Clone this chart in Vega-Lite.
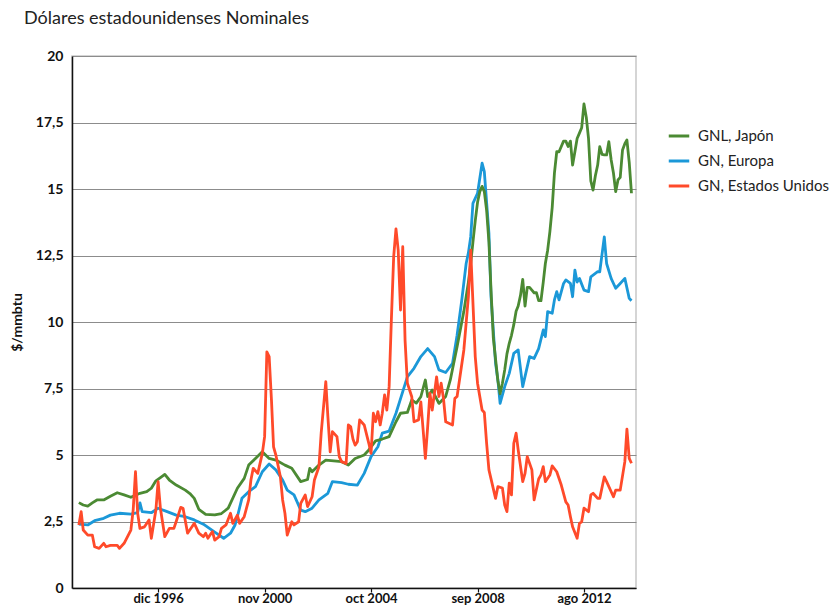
{
"$schema": "https://vega.github.io/schema/vega-lite/v6.json",
"width": 564, "height": 532,
"autosize": "none",
"padding": {"left": 72, "top": 56, "right": 194, "bottom": 18},
"background": "white",
"title": {"text": "Dólares estadounidenses Nominales", "anchor": "start", "frame": "group", "dx": -48, "dy": 23, "offset": 30, "baseline": "alphabetic", "fontSize": 18, "fontWeight": "normal", "font": "Lato", "color": "#222222"},
"config": {"view": {"stroke": "#c8c8c8", "strokeWidth": 1.5}, "font": "Lato"},
"data": {"values": [
{"fecha":"1994-01-01","serie":"GN, Europa","valor":2.4},
{"fecha":"1994-05-01","serie":"GN, Europa","valor":2.37},
{"fecha":"1994-08-01","serie":"GN, Europa","valor":2.53},
{"fecha":"1994-12-01","serie":"GN, Europa","valor":2.62},
{"fecha":"1995-03-01","serie":"GN, Europa","valor":2.74},
{"fecha":"1995-07-01","serie":"GN, Europa","valor":2.81},
{"fecha":"1995-12-01","serie":"GN, Europa","valor":2.78},
{"fecha":"1996-03-01","serie":"GN, Europa","valor":2.83},
{"fecha":"1996-04-01","serie":"GN, Europa","valor":3.2},
{"fecha":"1996-05-01","serie":"GN, Europa","valor":2.87},
{"fecha":"1996-09-01","serie":"GN, Europa","valor":2.83},
{"fecha":"1996-12-01","serie":"GN, Europa","valor":3.0},
{"fecha":"1997-04-01","serie":"GN, Europa","valor":2.87},
{"fecha":"1997-08-01","serie":"GN, Europa","valor":2.74},
{"fecha":"1997-12-01","serie":"GN, Europa","valor":2.68},
{"fecha":"1998-04-01","serie":"GN, Europa","valor":2.56},
{"fecha":"1998-08-01","serie":"GN, Europa","valor":2.4},
{"fecha":"1999-01-01","serie":"GN, Europa","valor":2.1},
{"fecha":"1999-05-01","serie":"GN, Europa","valor":1.87},
{"fecha":"1999-08-01","serie":"GN, Europa","valor":2.06},
{"fecha":"1999-10-01","serie":"GN, Europa","valor":2.37},
{"fecha":"1999-11-01","serie":"GN, Europa","valor":2.68},
{"fecha":"2000-01-01","serie":"GN, Europa","valor":3.37},
{"fecha":"2000-04-01","serie":"GN, Europa","valor":3.62},
{"fecha":"2000-07-01","serie":"GN, Europa","valor":3.81},
{"fecha":"2000-10-01","serie":"GN, Europa","valor":4.37},
{"fecha":"2001-01-01","serie":"GN, Europa","valor":4.66},
{"fecha":"2001-04-01","serie":"GN, Europa","valor":4.44},
{"fecha":"2001-07-01","serie":"GN, Europa","valor":4.06},
{"fecha":"2001-09-01","serie":"GN, Europa","valor":3.68},
{"fecha":"2001-12-01","serie":"GN, Europa","valor":3.5},
{"fecha":"2002-03-01","serie":"GN, Europa","valor":2.93},
{"fecha":"2002-05-01","serie":"GN, Europa","valor":2.87},
{"fecha":"2002-08-01","serie":"GN, Europa","valor":3.0},
{"fecha":"2002-11-01","serie":"GN, Europa","valor":3.31},
{"fecha":"2003-03-01","serie":"GN, Europa","valor":3.56},
{"fecha":"2003-05-01","serie":"GN, Europa","valor":4.0},
{"fecha":"2003-09-01","serie":"GN, Europa","valor":3.96},
{"fecha":"2003-12-01","serie":"GN, Europa","valor":3.9},
{"fecha":"2004-04-01","serie":"GN, Europa","valor":3.87},
{"fecha":"2004-07-01","serie":"GN, Europa","valor":4.31},
{"fecha":"2004-10-01","serie":"GN, Europa","valor":4.94},
{"fecha":"2005-01-01","serie":"GN, Europa","valor":5.31},
{"fecha":"2005-03-01","serie":"GN, Europa","valor":5.82},
{"fecha":"2005-06-01","serie":"GN, Europa","valor":5.9},
{"fecha":"2005-09-01","serie":"GN, Europa","valor":6.57},
{"fecha":"2005-12-01","serie":"GN, Europa","valor":7.38},
{"fecha":"2006-02-01","serie":"GN, Europa","valor":7.94},
{"fecha":"2006-05-01","serie":"GN, Europa","valor":8.26},
{"fecha":"2006-08-01","serie":"GN, Europa","valor":8.7},
{"fecha":"2006-11-01","serie":"GN, Europa","valor":9.0},
{"fecha":"2007-02-01","serie":"GN, Europa","valor":8.7},
{"fecha":"2007-04-01","serie":"GN, Europa","valor":8.2},
{"fecha":"2007-07-01","serie":"GN, Europa","valor":8.1},
{"fecha":"2007-10-01","serie":"GN, Europa","valor":8.45},
{"fecha":"2007-12-01","serie":"GN, Europa","valor":9.5},
{"fecha":"2008-02-01","serie":"GN, Europa","valor":10.8},
{"fecha":"2008-04-01","serie":"GN, Europa","valor":12.2},
{"fecha":"2008-05-01","serie":"GN, Europa","valor":12.6},
{"fecha":"2008-06-01","serie":"GN, Europa","valor":13.2},
{"fecha":"2008-07-01","serie":"GN, Europa","valor":14.46},
{"fecha":"2008-09-01","serie":"GN, Europa","valor":14.84},
{"fecha":"2008-11-01","serie":"GN, Europa","valor":15.97},
{"fecha":"2008-12-01","serie":"GN, Europa","valor":15.65},
{"fecha":"2009-02-01","serie":"GN, Europa","valor":13.33},
{"fecha":"2009-03-01","serie":"GN, Europa","valor":10.95},
{"fecha":"2009-05-01","serie":"GN, Europa","valor":8.45},
{"fecha":"2009-06-01","serie":"GN, Europa","valor":7.82},
{"fecha":"2009-07-01","serie":"GN, Europa","valor":6.94},
{"fecha":"2009-09-01","serie":"GN, Europa","valor":7.57},
{"fecha":"2009-11-01","serie":"GN, Europa","valor":8.07},
{"fecha":"2010-01-01","serie":"GN, Europa","valor":8.82},
{"fecha":"2010-03-01","serie":"GN, Europa","valor":8.95},
{"fecha":"2010-05-01","serie":"GN, Europa","valor":7.57},
{"fecha":"2010-08-01","serie":"GN, Europa","valor":8.7},
{"fecha":"2010-10-01","serie":"GN, Europa","valor":8.63},
{"fecha":"2010-12-01","serie":"GN, Europa","valor":9.0},
{"fecha":"2011-02-01","serie":"GN, Europa","valor":9.7},
{"fecha":"2011-03-01","serie":"GN, Europa","valor":9.45},
{"fecha":"2011-04-01","serie":"GN, Europa","valor":10.39},
{"fecha":"2011-06-01","serie":"GN, Europa","valor":10.33},
{"fecha":"2011-07-01","serie":"GN, Europa","valor":10.83},
{"fecha":"2011-08-01","serie":"GN, Europa","valor":11.14},
{"fecha":"2011-09-01","serie":"GN, Europa","valor":10.83},
{"fecha":"2011-11-01","serie":"GN, Europa","valor":11.45},
{"fecha":"2011-12-01","serie":"GN, Europa","valor":11.58},
{"fecha":"2012-02-01","serie":"GN, Europa","valor":11.45},
{"fecha":"2012-03-01","serie":"GN, Europa","valor":10.95},
{"fecha":"2012-04-01","serie":"GN, Europa","valor":11.95},
{"fecha":"2012-05-01","serie":"GN, Europa","valor":11.5},
{"fecha":"2012-06-01","serie":"GN, Europa","valor":11.64},
{"fecha":"2012-08-01","serie":"GN, Europa","valor":11.2},
{"fecha":"2012-10-01","serie":"GN, Europa","valor":11.14},
{"fecha":"2012-11-01","serie":"GN, Europa","valor":11.7},
{"fecha":"2013-02-01","serie":"GN, Europa","valor":11.89},
{"fecha":"2013-03-01","serie":"GN, Europa","valor":11.89},
{"fecha":"2013-05-01","serie":"GN, Europa","valor":13.2},
{"fecha":"2013-06-01","serie":"GN, Europa","valor":12.2},
{"fecha":"2013-08-01","serie":"GN, Europa","valor":11.64},
{"fecha":"2013-10-01","serie":"GN, Europa","valor":11.27},
{"fecha":"2013-12-01","serie":"GN, Europa","valor":11.45},
{"fecha":"2014-02-01","serie":"GN, Europa","valor":11.64},
{"fecha":"2014-04-01","serie":"GN, Europa","valor":10.89},
{"fecha":"2014-05-01","serie":"GN, Europa","valor":10.8},
{"fecha":"1994-01-01","serie":"GNL, Japón","valor":3.21},
{"fecha":"1994-03-01","serie":"GNL, Japón","valor":3.12},
{"fecha":"1994-05-01","serie":"GNL, Japón","valor":3.08},
{"fecha":"1994-07-01","serie":"GNL, Japón","valor":3.2},
{"fecha":"1994-09-01","serie":"GNL, Japón","valor":3.31},
{"fecha":"1994-12-01","serie":"GNL, Japón","valor":3.31},
{"fecha":"1995-03-01","serie":"GNL, Japón","valor":3.45},
{"fecha":"1995-06-01","serie":"GNL, Japón","valor":3.58},
{"fecha":"1995-09-01","serie":"GNL, Japón","valor":3.5},
{"fecha":"1995-12-01","serie":"GNL, Japón","valor":3.41},
{"fecha":"1996-04-01","serie":"GNL, Japón","valor":3.56},
{"fecha":"1996-07-01","serie":"GNL, Japón","valor":3.62},
{"fecha":"1996-09-01","serie":"GNL, Japón","valor":3.75},
{"fecha":"1996-11-01","serie":"GNL, Japón","valor":4.03},
{"fecha":"1997-01-01","serie":"GNL, Japón","valor":4.15},
{"fecha":"1997-03-01","serie":"GNL, Japón","valor":4.27},
{"fecha":"1997-05-01","serie":"GNL, Japón","valor":4.06},
{"fecha":"1997-08-01","serie":"GNL, Japón","valor":3.87},
{"fecha":"1997-12-01","serie":"GNL, Japón","valor":3.68},
{"fecha":"1998-02-01","serie":"GNL, Japón","valor":3.55},
{"fecha":"1998-04-01","serie":"GNL, Japón","valor":3.37},
{"fecha":"1998-06-01","serie":"GNL, Japón","valor":2.96},
{"fecha":"1998-09-01","serie":"GNL, Japón","valor":2.77},
{"fecha":"1999-01-01","serie":"GNL, Japón","valor":2.75},
{"fecha":"1999-04-01","serie":"GNL, Japón","valor":2.8},
{"fecha":"1999-07-01","serie":"GNL, Japón","valor":3.0},
{"fecha":"1999-11-01","serie":"GNL, Japón","valor":3.75},
{"fecha":"2000-02-01","serie":"GNL, Japón","valor":4.12},
{"fecha":"2000-04-01","serie":"GNL, Japón","valor":4.62},
{"fecha":"2000-07-01","serie":"GNL, Japón","valor":4.87},
{"fecha":"2000-10-01","serie":"GNL, Japón","valor":5.12},
{"fecha":"2001-01-01","serie":"GNL, Japón","valor":4.87},
{"fecha":"2001-04-01","serie":"GNL, Japón","valor":4.81},
{"fecha":"2001-08-01","serie":"GNL, Japón","valor":4.62},
{"fecha":"2001-11-01","serie":"GNL, Japón","valor":4.5},
{"fecha":"2002-03-01","serie":"GNL, Japón","valor":4.0},
{"fecha":"2002-06-01","serie":"GNL, Japón","valor":4.08},
{"fecha":"2002-07-01","serie":"GNL, Japón","valor":4.5},
{"fecha":"2002-08-01","serie":"GNL, Japón","valor":4.37},
{"fecha":"2002-11-01","serie":"GNL, Japón","valor":4.62},
{"fecha":"2003-02-01","serie":"GNL, Japón","valor":4.81},
{"fecha":"2003-09-01","serie":"GNL, Japón","valor":4.75},
{"fecha":"2003-12-01","serie":"GNL, Japón","valor":4.62},
{"fecha":"2004-03-01","serie":"GNL, Japón","valor":4.87},
{"fecha":"2004-07-01","serie":"GNL, Japón","valor":5.0},
{"fecha":"2004-09-01","serie":"GNL, Japón","valor":5.19},
{"fecha":"2004-12-01","serie":"GNL, Japón","valor":5.53},
{"fecha":"2005-03-01","serie":"GNL, Japón","valor":5.6},
{"fecha":"2005-06-01","serie":"GNL, Japón","valor":5.69},
{"fecha":"2005-09-01","serie":"GNL, Japón","valor":6.25},
{"fecha":"2005-11-01","serie":"GNL, Japón","valor":6.57},
{"fecha":"2006-02-01","serie":"GNL, Japón","valor":6.6},
{"fecha":"2006-04-01","serie":"GNL, Japón","valor":7.07},
{"fecha":"2006-06-01","serie":"GNL, Japón","valor":6.95},
{"fecha":"2006-08-01","serie":"GNL, Japón","valor":7.19},
{"fecha":"2006-10-01","serie":"GNL, Japón","valor":7.82},
{"fecha":"2006-11-01","serie":"GNL, Japón","valor":7.2},
{"fecha":"2007-01-01","serie":"GNL, Japón","valor":7.44},
{"fecha":"2007-04-01","serie":"GNL, Japón","valor":6.94},
{"fecha":"2007-07-01","serie":"GNL, Japón","valor":7.2},
{"fecha":"2007-09-01","serie":"GNL, Japón","valor":7.82},
{"fecha":"2007-12-01","serie":"GNL, Japón","valor":9.07},
{"fecha":"2008-03-01","serie":"GNL, Japón","valor":10.4},
{"fecha":"2008-05-01","serie":"GNL, Japón","valor":11.5},
{"fecha":"2008-06-01","serie":"GNL, Japón","valor":12.2},
{"fecha":"2008-07-01","serie":"GNL, Japón","valor":13.0},
{"fecha":"2008-08-01","serie":"GNL, Japón","valor":13.8},
{"fecha":"2008-09-01","serie":"GNL, Japón","valor":14.5},
{"fecha":"2008-10-01","serie":"GNL, Japón","valor":14.9},
{"fecha":"2008-11-01","serie":"GNL, Japón","valor":15.1},
{"fecha":"2008-12-01","serie":"GNL, Japón","valor":14.9},
{"fecha":"2009-01-01","serie":"GNL, Japón","valor":14.2},
{"fecha":"2009-02-01","serie":"GNL, Japón","valor":13.0},
{"fecha":"2009-03-01","serie":"GNL, Japón","valor":11.2},
{"fecha":"2009-04-01","serie":"GNL, Japón","valor":9.4},
{"fecha":"2009-05-01","serie":"GNL, Japón","valor":8.6},
{"fecha":"2009-06-01","serie":"GNL, Japón","valor":7.8},
{"fecha":"2009-07-01","serie":"GNL, Japón","valor":7.3},
{"fecha":"2009-08-01","serie":"GNL, Japón","valor":7.7},
{"fecha":"2009-09-01","serie":"GNL, Japón","valor":8.2},
{"fecha":"2009-10-01","serie":"GNL, Japón","valor":8.8},
{"fecha":"2009-11-01","serie":"GNL, Japón","valor":9.2},
{"fecha":"2009-12-01","serie":"GNL, Japón","valor":9.5},
{"fecha":"2010-01-01","serie":"GNL, Japón","valor":9.9},
{"fecha":"2010-02-01","serie":"GNL, Japón","valor":10.4},
{"fecha":"2010-03-01","serie":"GNL, Japón","valor":10.6},
{"fecha":"2010-04-01","serie":"GNL, Japón","valor":11.0},
{"fecha":"2010-05-01","serie":"GNL, Japón","valor":11.6},
{"fecha":"2010-06-01","serie":"GNL, Japón","valor":10.6},
{"fecha":"2010-07-01","serie":"GNL, Japón","valor":11.3},
{"fecha":"2010-08-01","serie":"GNL, Japón","valor":11.3},
{"fecha":"2010-09-01","serie":"GNL, Japón","valor":11.2},
{"fecha":"2010-10-01","serie":"GNL, Japón","valor":11.1},
{"fecha":"2010-11-01","serie":"GNL, Japón","valor":11.1},
{"fecha":"2010-12-01","serie":"GNL, Japón","valor":10.8},
{"fecha":"2011-01-01","serie":"GNL, Japón","valor":10.8},
{"fecha":"2011-02-01","serie":"GNL, Japón","valor":11.5},
{"fecha":"2011-03-01","serie":"GNL, Japón","valor":12.2},
{"fecha":"2011-04-01","serie":"GNL, Japón","valor":12.7},
{"fecha":"2011-05-01","serie":"GNL, Japón","valor":13.4},
{"fecha":"2011-06-01","serie":"GNL, Japón","valor":14.3},
{"fecha":"2011-07-01","serie":"GNL, Japón","valor":15.6},
{"fecha":"2011-08-01","serie":"GNL, Japón","valor":16.4},
{"fecha":"2011-09-01","serie":"GNL, Japón","valor":16.4},
{"fecha":"2011-10-01","serie":"GNL, Japón","valor":16.6},
{"fecha":"2011-11-01","serie":"GNL, Japón","valor":16.8},
{"fecha":"2011-12-01","serie":"GNL, Japón","valor":16.8},
{"fecha":"2012-01-01","serie":"GNL, Japón","valor":16.6},
{"fecha":"2012-02-01","serie":"GNL, Japón","valor":16.8},
{"fecha":"2012-03-01","serie":"GNL, Japón","valor":15.9},
{"fecha":"2012-04-01","serie":"GNL, Japón","valor":16.4},
{"fecha":"2012-05-01","serie":"GNL, Japón","valor":16.9},
{"fecha":"2012-06-01","serie":"GNL, Japón","valor":17.1},
{"fecha":"2012-07-01","serie":"GNL, Japón","valor":17.3},
{"fecha":"2012-08-01","serie":"GNL, Japón","valor":18.2},
{"fecha":"2012-09-01","serie":"GNL, Japón","valor":17.7},
{"fecha":"2012-10-01","serie":"GNL, Japón","valor":16.9},
{"fecha":"2012-11-01","serie":"GNL, Japón","valor":15.3},
{"fecha":"2012-12-01","serie":"GNL, Japón","valor":14.96},
{"fecha":"2013-01-01","serie":"GNL, Japón","valor":15.5},
{"fecha":"2013-02-01","serie":"GNL, Japón","valor":15.9},
{"fecha":"2013-03-01","serie":"GNL, Japón","valor":16.59},
{"fecha":"2013-04-01","serie":"GNL, Japón","valor":16.3},
{"fecha":"2013-05-01","serie":"GNL, Japón","valor":16.28},
{"fecha":"2013-06-01","serie":"GNL, Japón","valor":16.28},
{"fecha":"2013-07-01","serie":"GNL, Japón","valor":16.78},
{"fecha":"2013-08-01","serie":"GNL, Japón","valor":16.1},
{"fecha":"2013-09-01","serie":"GNL, Japón","valor":15.6},
{"fecha":"2013-10-01","serie":"GNL, Japón","valor":14.9},
{"fecha":"2013-11-01","serie":"GNL, Japón","valor":15.34},
{"fecha":"2013-12-01","serie":"GNL, Japón","valor":15.44},
{"fecha":"2014-01-01","serie":"GNL, Japón","valor":16.47},
{"fecha":"2014-02-01","serie":"GNL, Japón","valor":16.7},
{"fecha":"2014-03-01","serie":"GNL, Japón","valor":16.84},
{"fecha":"2014-04-01","serie":"GNL, Japón","valor":16.0},
{"fecha":"2014-05-01","serie":"GNL, Japón","valor":14.84},
{"fecha":"1994-01-01","serie":"GN, Estados Unidos","valor":2.37},
{"fecha":"1994-02-01","serie":"GN, Estados Unidos","valor":2.87},
{"fecha":"1994-03-01","serie":"GN, Estados Unidos","valor":2.18},
{"fecha":"1994-05-01","serie":"GN, Estados Unidos","valor":1.99},
{"fecha":"1994-07-01","serie":"GN, Estados Unidos","valor":1.99},
{"fecha":"1994-08-01","serie":"GN, Estados Unidos","valor":1.55},
{"fecha":"1994-10-01","serie":"GN, Estados Unidos","valor":1.49},
{"fecha":"1994-12-01","serie":"GN, Estados Unidos","valor":1.68},
{"fecha":"1995-01-01","serie":"GN, Estados Unidos","valor":1.55},
{"fecha":"1995-03-01","serie":"GN, Estados Unidos","valor":1.6},
{"fecha":"1995-06-01","serie":"GN, Estados Unidos","valor":1.6},
{"fecha":"1995-07-01","serie":"GN, Estados Unidos","valor":1.49},
{"fecha":"1995-09-01","serie":"GN, Estados Unidos","valor":1.68},
{"fecha":"1995-12-01","serie":"GN, Estados Unidos","valor":2.18},
{"fecha":"1996-01-01","serie":"GN, Estados Unidos","valor":2.93},
{"fecha":"1996-02-01","serie":"GN, Estados Unidos","valor":4.37},
{"fecha":"1996-03-01","serie":"GN, Estados Unidos","valor":2.81},
{"fecha":"1996-04-01","serie":"GN, Estados Unidos","valor":2.24},
{"fecha":"1996-06-01","serie":"GN, Estados Unidos","valor":2.3},
{"fecha":"1996-08-01","serie":"GN, Estados Unidos","valor":2.56},
{"fecha":"1996-09-01","serie":"GN, Estados Unidos","valor":1.87},
{"fecha":"1996-11-01","serie":"GN, Estados Unidos","valor":2.93},
{"fecha":"1996-12-01","serie":"GN, Estados Unidos","valor":4.0},
{"fecha":"1997-01-01","serie":"GN, Estados Unidos","valor":2.99},
{"fecha":"1997-03-01","serie":"GN, Estados Unidos","valor":1.93},
{"fecha":"1997-05-01","serie":"GN, Estados Unidos","valor":2.24},
{"fecha":"1997-07-01","serie":"GN, Estados Unidos","valor":2.24},
{"fecha":"1997-08-01","serie":"GN, Estados Unidos","valor":2.5},
{"fecha":"1997-10-01","serie":"GN, Estados Unidos","valor":3.03},
{"fecha":"1997-11-01","serie":"GN, Estados Unidos","valor":3.0},
{"fecha":"1998-01-01","serie":"GN, Estados Unidos","valor":2.06},
{"fecha":"1998-03-01","serie":"GN, Estados Unidos","valor":2.3},
{"fecha":"1998-04-01","serie":"GN, Estados Unidos","valor":2.43},
{"fecha":"1998-06-01","serie":"GN, Estados Unidos","valor":2.06},
{"fecha":"1998-08-01","serie":"GN, Estados Unidos","valor":1.93},
{"fecha":"1998-09-01","serie":"GN, Estados Unidos","valor":2.06},
{"fecha":"1998-10-01","serie":"GN, Estados Unidos","valor":1.87},
{"fecha":"1998-11-01","serie":"GN, Estados Unidos","valor":2.0},
{"fecha":"1998-12-01","serie":"GN, Estados Unidos","valor":2.12},
{"fecha":"1999-01-01","serie":"GN, Estados Unidos","valor":1.8},
{"fecha":"1999-03-01","serie":"GN, Estados Unidos","valor":1.93},
{"fecha":"1999-04-01","serie":"GN, Estados Unidos","valor":2.24},
{"fecha":"1999-06-01","serie":"GN, Estados Unidos","valor":2.37},
{"fecha":"1999-08-01","serie":"GN, Estados Unidos","valor":2.81},
{"fecha":"1999-09-01","serie":"GN, Estados Unidos","valor":2.43},
{"fecha":"1999-11-01","serie":"GN, Estados Unidos","valor":2.74},
{"fecha":"1999-12-01","serie":"GN, Estados Unidos","valor":2.43},
{"fecha":"2000-02-01","serie":"GN, Estados Unidos","valor":2.68},
{"fecha":"2000-04-01","serie":"GN, Estados Unidos","valor":3.31},
{"fecha":"2000-05-01","serie":"GN, Estados Unidos","valor":4.06},
{"fecha":"2000-06-01","serie":"GN, Estados Unidos","valor":4.5},
{"fecha":"2000-08-01","serie":"GN, Estados Unidos","valor":4.31},
{"fecha":"2000-10-01","serie":"GN, Estados Unidos","valor":5.06},
{"fecha":"2000-11-01","serie":"GN, Estados Unidos","valor":5.69},
{"fecha":"2000-12-01","serie":"GN, Estados Unidos","valor":8.88},
{"fecha":"2001-01-01","serie":"GN, Estados Unidos","valor":8.7},
{"fecha":"2001-02-01","serie":"GN, Estados Unidos","valor":7.07},
{"fecha":"2001-03-01","serie":"GN, Estados Unidos","valor":5.31},
{"fecha":"2001-04-01","serie":"GN, Estados Unidos","valor":5.0},
{"fecha":"2001-06-01","serie":"GN, Estados Unidos","valor":4.18},
{"fecha":"2001-07-01","serie":"GN, Estados Unidos","valor":3.31},
{"fecha":"2001-08-01","serie":"GN, Estados Unidos","valor":2.81},
{"fecha":"2001-09-01","serie":"GN, Estados Unidos","valor":1.99},
{"fecha":"2001-11-01","serie":"GN, Estados Unidos","valor":2.49},
{"fecha":"2001-12-01","serie":"GN, Estados Unidos","valor":2.37},
{"fecha":"2002-02-01","serie":"GN, Estados Unidos","valor":2.49},
{"fecha":"2002-03-01","serie":"GN, Estados Unidos","valor":3.18},
{"fecha":"2002-05-01","serie":"GN, Estados Unidos","valor":3.5},
{"fecha":"2002-06-01","serie":"GN, Estados Unidos","valor":3.06},
{"fecha":"2002-08-01","serie":"GN, Estados Unidos","valor":3.43},
{"fecha":"2002-09-01","serie":"GN, Estados Unidos","valor":4.06},
{"fecha":"2002-11-01","serie":"GN, Estados Unidos","valor":4.56},
{"fecha":"2002-12-01","serie":"GN, Estados Unidos","valor":5.82},
{"fecha":"2003-02-01","serie":"GN, Estados Unidos","valor":7.76},
{"fecha":"2003-03-01","serie":"GN, Estados Unidos","valor":6.44},
{"fecha":"2003-04-01","serie":"GN, Estados Unidos","valor":5.12},
{"fecha":"2003-05-01","serie":"GN, Estados Unidos","valor":5.88},
{"fecha":"2003-07-01","serie":"GN, Estados Unidos","valor":5.69},
{"fecha":"2003-08-01","serie":"GN, Estados Unidos","valor":4.94},
{"fecha":"2003-09-01","serie":"GN, Estados Unidos","valor":4.75},
{"fecha":"2003-11-01","serie":"GN, Estados Unidos","valor":4.68},
{"fecha":"2003-12-01","serie":"GN, Estados Unidos","valor":6.13},
{"fecha":"2004-01-01","serie":"GN, Estados Unidos","valor":6.07},
{"fecha":"2004-02-01","serie":"GN, Estados Unidos","valor":5.6},
{"fecha":"2004-03-01","serie":"GN, Estados Unidos","valor":5.37},
{"fecha":"2004-04-01","serie":"GN, Estados Unidos","valor":5.5},
{"fecha":"2004-05-01","serie":"GN, Estados Unidos","valor":6.32},
{"fecha":"2004-07-01","serie":"GN, Estados Unidos","valor":6.13},
{"fecha":"2004-09-01","serie":"GN, Estados Unidos","valor":5.44},
{"fecha":"2004-10-01","serie":"GN, Estados Unidos","valor":5.06},
{"fecha":"2004-11-01","serie":"GN, Estados Unidos","valor":6.57},
{"fecha":"2004-12-01","serie":"GN, Estados Unidos","valor":6.25},
{"fecha":"2005-01-01","serie":"GN, Estados Unidos","valor":6.63},
{"fecha":"2005-02-01","serie":"GN, Estados Unidos","valor":6.13},
{"fecha":"2005-03-01","serie":"GN, Estados Unidos","valor":6.57},
{"fecha":"2005-04-01","serie":"GN, Estados Unidos","valor":7.26},
{"fecha":"2005-05-01","serie":"GN, Estados Unidos","valor":6.69},
{"fecha":"2005-06-01","serie":"GN, Estados Unidos","valor":7.57},
{"fecha":"2005-07-01","serie":"GN, Estados Unidos","valor":10.08},
{"fecha":"2005-08-01","serie":"GN, Estados Unidos","valor":12.45},
{"fecha":"2005-09-01","serie":"GN, Estados Unidos","valor":13.5},
{"fecha":"2005-10-01","serie":"GN, Estados Unidos","valor":12.7},
{"fecha":"2005-11-01","serie":"GN, Estados Unidos","valor":10.45},
{"fecha":"2005-12-01","serie":"GN, Estados Unidos","valor":12.83},
{"fecha":"2006-01-01","serie":"GN, Estados Unidos","valor":9.32},
{"fecha":"2006-02-01","serie":"GN, Estados Unidos","valor":7.7},
{"fecha":"2006-04-01","serie":"GN, Estados Unidos","valor":7.19},
{"fecha":"2006-05-01","serie":"GN, Estados Unidos","valor":6.25},
{"fecha":"2006-07-01","serie":"GN, Estados Unidos","valor":6.32},
{"fecha":"2006-08-01","serie":"GN, Estados Unidos","valor":7.0},
{"fecha":"2006-09-01","serie":"GN, Estados Unidos","valor":5.94},
{"fecha":"2006-10-01","serie":"GN, Estados Unidos","valor":4.87},
{"fecha":"2006-11-01","serie":"GN, Estados Unidos","valor":6.07},
{"fecha":"2006-12-01","serie":"GN, Estados Unidos","valor":7.32},
{"fecha":"2007-01-01","serie":"GN, Estados Unidos","valor":6.69},
{"fecha":"2007-03-01","serie":"GN, Estados Unidos","valor":7.94},
{"fecha":"2007-04-01","serie":"GN, Estados Unidos","valor":7.2},
{"fecha":"2007-05-01","serie":"GN, Estados Unidos","valor":7.7},
{"fecha":"2007-06-01","serie":"GN, Estados Unidos","valor":7.13},
{"fecha":"2007-07-01","serie":"GN, Estados Unidos","valor":6.25},
{"fecha":"2007-10-01","serie":"GN, Estados Unidos","valor":6.13},
{"fecha":"2007-11-01","serie":"GN, Estados Unidos","valor":7.13},
{"fecha":"2007-12-01","serie":"GN, Estados Unidos","valor":7.2},
{"fecha":"2008-03-01","serie":"GN, Estados Unidos","valor":8.95},
{"fecha":"2008-05-01","serie":"GN, Estados Unidos","valor":10.95},
{"fecha":"2008-06-01","serie":"GN, Estados Unidos","valor":12.7},
{"fecha":"2008-08-01","serie":"GN, Estados Unidos","valor":8.7},
{"fecha":"2008-09-01","serie":"GN, Estados Unidos","valor":7.7},
{"fecha":"2008-11-01","serie":"GN, Estados Unidos","valor":6.69},
{"fecha":"2008-12-01","serie":"GN, Estados Unidos","valor":6.6},
{"fecha":"2009-01-01","serie":"GN, Estados Unidos","valor":5.44},
{"fecha":"2009-02-01","serie":"GN, Estados Unidos","valor":4.44},
{"fecha":"2009-05-01","serie":"GN, Estados Unidos","valor":3.37},
{"fecha":"2009-06-01","serie":"GN, Estados Unidos","valor":3.81},
{"fecha":"2009-08-01","serie":"GN, Estados Unidos","valor":3.76},
{"fecha":"2009-09-01","serie":"GN, Estados Unidos","valor":3.12},
{"fecha":"2009-10-01","serie":"GN, Estados Unidos","valor":2.87},
{"fecha":"2009-11-01","serie":"GN, Estados Unidos","valor":3.94},
{"fecha":"2009-12-01","serie":"GN, Estados Unidos","valor":3.5},
{"fecha":"2010-01-01","serie":"GN, Estados Unidos","valor":5.44},
{"fecha":"2010-02-01","serie":"GN, Estados Unidos","valor":5.82},
{"fecha":"2010-03-01","serie":"GN, Estados Unidos","valor":5.19},
{"fecha":"2010-05-01","serie":"GN, Estados Unidos","valor":4.0},
{"fecha":"2010-06-01","serie":"GN, Estados Unidos","valor":4.31},
{"fecha":"2010-07-01","serie":"GN, Estados Unidos","valor":4.94},
{"fecha":"2010-09-01","serie":"GN, Estados Unidos","valor":4.44},
{"fecha":"2010-10-01","serie":"GN, Estados Unidos","valor":3.31},
{"fecha":"2010-12-01","serie":"GN, Estados Unidos","valor":4.1},
{"fecha":"2011-01-01","serie":"GN, Estados Unidos","valor":4.25},
{"fecha":"2011-02-01","serie":"GN, Estados Unidos","valor":4.56},
{"fecha":"2011-03-01","serie":"GN, Estados Unidos","valor":4.0},
{"fecha":"2011-05-01","serie":"GN, Estados Unidos","valor":4.25},
{"fecha":"2011-06-01","serie":"GN, Estados Unidos","valor":4.59},
{"fecha":"2011-08-01","serie":"GN, Estados Unidos","valor":4.37},
{"fecha":"2011-10-01","serie":"GN, Estados Unidos","valor":3.87},
{"fecha":"2011-12-01","serie":"GN, Estados Unidos","valor":3.24},
{"fecha":"2012-01-01","serie":"GN, Estados Unidos","valor":3.12},
{"fecha":"2012-02-01","serie":"GN, Estados Unidos","valor":2.68},
{"fecha":"2012-03-01","serie":"GN, Estados Unidos","valor":2.3},
{"fecha":"2012-05-01","serie":"GN, Estados Unidos","valor":1.87},
{"fecha":"2012-06-01","serie":"GN, Estados Unidos","valor":2.43},
{"fecha":"2012-07-01","serie":"GN, Estados Unidos","valor":2.49},
{"fecha":"2012-08-01","serie":"GN, Estados Unidos","valor":3.0},
{"fecha":"2012-10-01","serie":"GN, Estados Unidos","valor":2.87},
{"fecha":"2012-11-01","serie":"GN, Estados Unidos","valor":3.5},
{"fecha":"2012-12-01","serie":"GN, Estados Unidos","valor":3.56},
{"fecha":"2013-02-01","serie":"GN, Estados Unidos","valor":3.37},
{"fecha":"2013-03-01","serie":"GN, Estados Unidos","valor":3.37},
{"fecha":"2013-05-01","serie":"GN, Estados Unidos","valor":4.18},
{"fecha":"2013-06-01","serie":"GN, Estados Unidos","valor":4.0},
{"fecha":"2013-09-01","serie":"GN, Estados Unidos","valor":3.43},
{"fecha":"2013-10-01","serie":"GN, Estados Unidos","valor":3.68},
{"fecha":"2013-12-01","serie":"GN, Estados Unidos","valor":3.68},
{"fecha":"2014-02-01","serie":"GN, Estados Unidos","valor":4.75},
{"fecha":"2014-03-01","serie":"GN, Estados Unidos","valor":5.97},
{"fecha":"2014-04-01","serie":"GN, Estados Unidos","valor":4.87},
{"fecha":"2014-05-01","serie":"GN, Estados Unidos","valor":4.69}
]},
"mark": {"type": "line", "strokeWidth": 2.8, "strokeJoin": "round"},
"encoding": {
 "x": {"field": "fecha", "type": "temporal",
  "scale": {"type": "utc", "domain": [{"year": 1993, "month": 10, "date": 1, "utc": true}, {"year": 2014, "month": 7, "date": 1, "utc": true}]},
  "axis": {"title": null, "grid": false,
   "values": [{"year": 1996, "month": 12, "date": 1, "utc": true}, {"year": 2000, "month": 11, "date": 1, "utc": true}, {"year": 2004, "month": 10, "date": 1, "utc": true}, {"year": 2008, "month": 9, "date": 1, "utc": true}, {"year": 2012, "month": 8, "date": 1, "utc": true}],
   "labelExpr": "['ene','feb','mar','abr','may','jun','jul','ago','sep','oct','nov','dic'][utcmonth(datum.value)] + ' ' + utcyear(datum.value)",
   "domainColor": "#111111", "domainWidth": 1.5, "tickColor": "#111111", "tickSize": 4, "tickWidth": 1.2,
   "labelFont": "Lato", "labelFontWeight": "bold", "labelFontSize": 13, "labelColor": "#111111", "labelPadding": 0, "labelFlush": false, "labelOverlap": false}},
 "y": {"field": "valor", "type": "quantitative",
  "scale": {"domain": [0, 20], "nice": false, "zero": true},
  "axis": {"title": "$/mmbtu", "values": [0, 2.5, 5, 7.5, 10, 12.5, 15, 17.5, 20],
   "labelExpr": "replace(toString(datum.value), '.', ',')",
   "grid": true, "gridColor": "#8c8c8c", "gridWidth": 1, "ticks": false,
   "domainColor": "#111111", "domainWidth": 1.5,
   "labelFont": "Lato", "labelFontWeight": "bold", "labelFontSize": 14, "labelColor": "#111111", "labelPadding": 9,
   "titleFont": "Lato", "titleFontWeight": "bold", "titleFontSize": 14, "titleColor": "#111111",
   "titleX": -55, "titleY": 266, "titleAngle": 270, "titleBaseline": "middle", "titleAlign": "center"}},
 "color": {"field": "serie", "type": "nominal",
  "scale": {"domain": ["GNL, Japón", "GN, Europa", "GN, Estados Unidos"], "range": ["#4b8a33", "#1b98d8", "#ff4a2a"]},
  "legend": {"title": null, "orient": "none", "legendX": 595, "legendY": 68, "symbolType": "stroke", "symbolStrokeWidth": 3, "symbolSize": 420, "labelFont": "Lato", "labelFontSize": 15, "labelColor": "#222222", "rowPadding": 5, "labelOffset": 7}}
}
}
